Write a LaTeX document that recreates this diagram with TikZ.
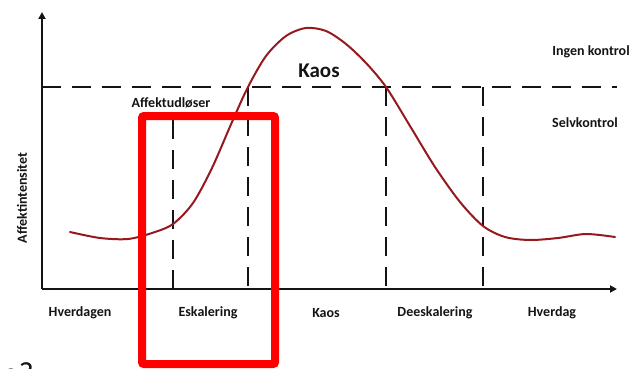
\documentclass[tikz,border=0pt]{standalone}
\usepackage{fontspec}
\setmainfont{Carlito}
\usetikzlibrary{arrows.meta}
\definecolor{curvered}{RGB}{150,25,30}
\definecolor{boxred}{RGB}{255,0,0}
\definecolor{ink}{RGB}{20,20,20}
\begin{document}
\begin{tikzpicture}[x=1pt,y=-1pt,
  lbl/.style={font=\bfseries\fontsize{14}{16}\selectfont, text=ink, inner sep=0pt},
  biglbl/.style={font=\bfseries\fontsize{21}{23}\selectfont, text=ink, inner sep=0pt},
  axisline/.style={line width=2.4pt, draw=ink, -{Triangle[length=7pt,width=7pt]}},
  guide/.style={line width=2.4pt, draw=ink, dash pattern=on 19pt off 11pt},
  curveline/.style={line width=2pt, draw=curvered, line cap=round},
  focusbox/.style={line width=8pt, draw=boxred, rounded corners=2pt}]
\useasboundingbox (0,0) rectangle (642,369);
% axes
\coordinate (O) at (42,289);
\coordinate (ytop) at (42,12);
\coordinate (xend) at (617,289);
\coordinate (hl) at (42,87);
\coordinate (hr) at (617,87);
\draw[guide] (hl) -- (hr);
\coordinate (v1t) at (173,120);
\coordinate (v1b) at (173,289);
\coordinate (v2t) at (248,87);
\coordinate (v2b) at (248,289);
\coordinate (v3t) at (386,87);
\coordinate (v3b) at (386,289);
\coordinate (v4t) at (483,87);
\coordinate (v4b) at (483,289);
\draw[guide] (v1t) -- (v1b);
\draw[guide] (v2t) -- (v2b);
\draw[guide] (v3t) -- (v3b);
\draw[guide] (v4t) -- (v4b);
\draw[axisline] (O) -- (ytop);
\draw[axisline] (O) -- (xend);
% curve
\draw[curveline] plot[smooth, tension=0.5] coordinates {
 (70,232) (100,238) (128,239) (152,233) (173,224) (193,203) (212,168)
 (232,122) (248,87) (266,56) (286,36) (306,28) (326,31) (346,44)
 (366,63) (386,87) (410,126) (435,167) (460,202) (483,226) (505,237)
 (530,240) (558,238) (586,234) (615,237)};
% labels
\node[biglbl] (kaosbig) at (319,71) {Kaos};
\node[lbl] (udl) at (171,103) {Affektudløser};
\node[lbl] (ingen) at (591,52) {Ingen kontrol};
\node[lbl] (selv) at (585,123) {Selvkontrol};
\node[lbl, rotate=90] (yl) at (22,198) {Affektintensitet};
\node[lbl] (l1) at (80,313) {Hverdagen};
\node[lbl] (l2) at (208,313) {Eskalering};
\node[lbl] (l3) at (326,313) {Kaos};
\node[lbl] (l4) at (435,313) {Deeskalering};
\node[lbl] (l5) at (552,313) {Hverdag};
% red focus box
\draw[focusbox] (142,116) rectangle (275,364);
% cut-off fragment
\node[font=\fontsize{32}{34}\selectfont, text=ink, inner sep=0pt, anchor=base east] (frag) at (34,384) {g?};
\end{tikzpicture}
\end{document}
